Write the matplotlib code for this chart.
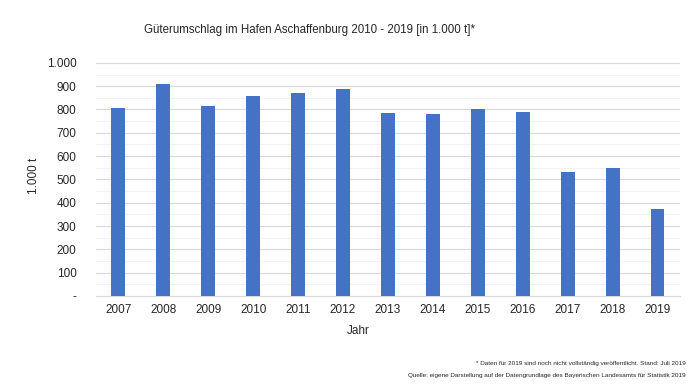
import matplotlib

matplotlib.use("Agg")
import matplotlib.pyplot as plt
import numpy as np
from matplotlib.ticker import FuncFormatter, MultipleLocator

plt.rcParams["font.family"] = ["Liberation Sans", "DejaVu Sans"]

# Values (1.000 t)
years = ["2007", "2008", "2009", "2010", "2011", "2012", "2013",
         "2014", "2015", "2016", "2017", "2018", "2019"]
tonnage = [807, 910, 814, 860, 871, 887, 787, 780, 800, 788, 531, 548, 372]

title = "Güterumschlag im Hafen Aschaffenburg 2010 - 2019 [in 1.000 t]*"
y_label = "1.000 t"
x_label = "Jahr"
footnote_1 = "* Daten für 2019 sind noch nicht vollständig veröffentlicht. Stand: Juli 2019"
footnote_2 = "Quelle: eigene Darstellung auf der Datengrundlage des Bayerischen Landesamts für Statistik 2019"

BAR_COLOR = "#4472C4"
TEXT_COLOR = "#262626"


def fmt_thousands(value, _pos):
    if value == 0:
        return "-"
    return f"{int(value):,}".replace(",", ".")


fig = plt.figure(figsize=(6.9, 3.88), dpi=100)
ax = fig.add_axes([0.139, 0.237, 0.8465, 0.601])

x = np.arange(len(years))
ax.bar(x, tonnage, width=0.31, color=BAR_COLOR, zorder=3)

ax.set_xlim(-0.5, len(years) - 0.5)
ax.set_ylim(0, 1000)
ax.set_xticks(x)
ax.set_xticklabels(years)
ax.yaxis.set_major_locator(MultipleLocator(100))
ax.yaxis.set_minor_locator(MultipleLocator(50))
ax.yaxis.set_major_formatter(FuncFormatter(fmt_thousands))

ax.grid(axis="y", which="major", color="#d9d9d9", linewidth=0.8, zorder=0)
ax.grid(axis="y", which="minor", color="#f0f0f0", linewidth=0.6, zorder=0)
for side in ["top", "right", "left"]:
    ax.spines[side].set_visible(False)
ax.spines["bottom"].set_color("#d9d9d9")
ax.spines["bottom"].set_linewidth(0.8)

ax.tick_params(axis="both", which="both", length=0, labelsize=8.5, colors=TEXT_COLOR)
ax.tick_params(axis="y", pad=14)
ax.tick_params(axis="x", pad=6)

fig.text(0.449, 0.922, title, ha="center", va="center", fontsize=8.3, color=TEXT_COLOR)
fig.text(0.049, 0.547, y_label, ha="center", va="center", rotation=90,
         fontsize=8.5, color=TEXT_COLOR)
fig.text(0.519, 0.147, x_label, ha="center", va="center", fontsize=8.5, color=TEXT_COLOR)
fig.text(0.994, 0.062, footnote_1, ha="right", va="center", fontsize=4.6, color=TEXT_COLOR)
fig.text(0.994, 0.033, footnote_2, ha="right", va="center", fontsize=4.6, color=TEXT_COLOR)

fig.savefig("out.png", dpi=100, facecolor="white")
